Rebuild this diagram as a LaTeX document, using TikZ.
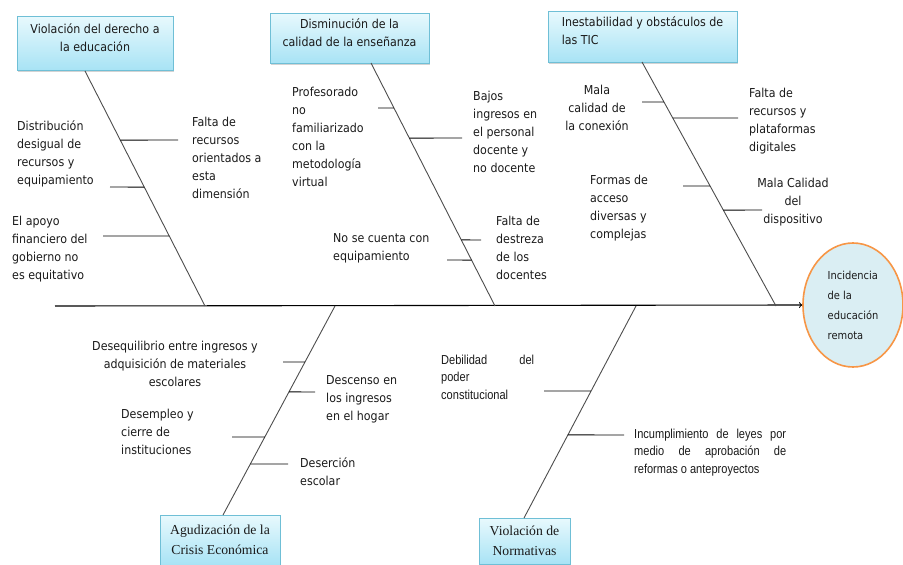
\documentclass[tikz,border=0pt]{standalone}
\usepackage{fontspec}
\setmainfont{DejaVu Sans}[FakeStretch=0.9]
\newfontfamily\serifbox{Liberation Serif}
\newfontfamily\arialn{Liberation Sans}[FakeStretch=0.85]
\usetikzlibrary{shadows,calc,shapes.geometric}
\definecolor{boxedge}{HTML}{6FBFD6}
\definecolor{boxtop}{HTML}{E8F9FD}
\definecolor{boxbot}{HTML}{A8E3F5}
\definecolor{ellfill}{HTML}{DAEEF3}
\definecolor{elledge}{HTML}{F79646}
\definecolor{bonecol}{HTML}{4D4D4D}
\definecolor{txt}{HTML}{1A1A1A}
\tikzset{
  cause/.style={rectangle, draw=boxedge, line width=0.8pt, top color=boxtop, bottom color=boxbot,
    drop shadow={opacity=0.35, shadow xshift=1pt, shadow yshift=-1.5pt},
    inner sep=0, text=txt, font=\fontsize{12.3}{18}\selectfont},
  topcause/.style={cause, text depth=11pt},
  lowcause/.style={cause, font=\serifbox\fontsize{13.7}{20.5}\selectfont},
  lbl/.style={inner sep=0, anchor=north west, align=left, text=txt, yshift=-3.5pt,
    font=\fontsize{12.3}{18}\selectfont, execute at begin node=\strut},
  clbl/.style={lbl, anchor=north, align=center},
  albl/.style={inner sep=0, anchor=north west, align=left, text=txt, yshift=-2.5pt,
    font=\arialn\fontsize{13}{17.5}\selectfont, execute at begin node=\strut},
  bone/.style={draw=bonecol, line width=0.9pt},
  twig/.style={draw=black, line width=0.9pt},
  spine/.style={draw=black, line width=1.1pt, -to}
}
\begin{document}
\begin{tikzpicture}[x=1pt,y=-1pt]
\useasboundingbox (0,0) rectangle (903,565);

% effect
\node[ellipse, draw=elledge, line width=1.6pt, fill=ellfill, minimum width=100pt, minimum height=124pt,
  inner sep=0, align=left, text=txt, font=\fontsize{11}{20}\selectfont] (eff) at (853,305)
  {Incidencia\\de la\\educación\\remota};

% cause boxes
\node[topcause, minimum width=156pt, minimum height=54pt, align=center] (c1) at (95,43)
  {Violación del derecho a\\la educación};
\node[topcause, minimum width=159pt, minimum height=50pt, align=center] (c2) at (349.5,38)
  {Disminución de la\\calidad de la enseñanza};
\node[topcause, minimum width=189pt, minimum height=51pt, align=left] (c3) at (642.5,36.5)
  {Inestabilidad y obstáculos de\\las TIC};
\node[lowcause, minimum width=120pt, minimum height=50pt, align=center] (c4) at (220,540)
  {Agudización de la\\Crisis Económica};
\node[lowcause, minimum width=91pt, minimum height=46pt, align=center] (c5) at (524.5,541)
  {Violación de\\Normativas};

% spine
\coordinate (tail) at (55,306);
\draw[spine] (tail) -- (eff.west);

% bone ends
\coordinate (t1) at (85,71);   \coordinate (j1) at (205,306);
\coordinate (t2) at (371,63);  \coordinate (j2) at (495,306);
\coordinate (t3) at (642,62);  \coordinate (j3) at (776,306);
\coordinate (j4) at (335,306); \coordinate (t4) at (223,515);
\coordinate (j5) at (636,306); \coordinate (t5) at (524,518);

\draw[bone] (t1) -- (j1)
  coordinate[pos=0.294] (b1a) coordinate[pos=0.494] (b1b) coordinate[pos=0.702] (b1c);
\draw[bone] (t2) -- (j2)
  coordinate[pos=0.185] (b2a) coordinate[pos=0.309] (b2b) coordinate[pos=0.728] (b2c) coordinate[pos=0.811] (b2d);
\draw[bone] (t3) -- (j3)
  coordinate[pos=0.164] (b3a) coordinate[pos=0.2295] (b3b) coordinate[pos=0.508] (b3c) coordinate[pos=0.607] (b3d);
\draw[bone] (j4) -- (t4)
  coordinate[pos=0.268] (b4a) coordinate[pos=0.411] (b4b) coordinate[pos=0.627] (b4c) coordinate[pos=0.756] (b4d);
\draw[bone] (j5) -- (t5)
  coordinate[pos=0.401] (b5a) coordinate[pos=0.608] (b5b);

% twig ends
\coordinate (e1a) at (178,140); \coordinate (e1b) at (110,187); \coordinate (e1c) at (103,236);
\coordinate (e2a) at (378,108); \coordinate (e2b) at (462,138); \coordinate (e2c) at (481,240); \coordinate (e2d) at (447,260);
\coordinate (e3a) at (642,102); \coordinate (e3b) at (738,118); \coordinate (e3c) at (683,186); \coordinate (e3d) at (762,210);
\coordinate (e4a) at (283,362); \coordinate (e4b) at (315,392); \coordinate (e4c) at (232,437); \coordinate (e4d) at (288,464);
\coordinate (e5a) at (544,391); \coordinate (e5b) at (624,435);

\foreach \a/\b in {b1a/e1a,b1b/e1b,b1c/e1c,b2a/e2a,b2b/e2b,b2c/e2c,b2d/e2d,
                   b3a/e3a,b3b/e3b,b3c/e3c,b3d/e3d,b4a/e4a,b4b/e4b,b4c/e4c,b4d/e4d,b5a/e5a,b5b/e5b}
  \draw[twig] (\a) -- (\b);

% labels
\node[lbl] (l1a) at (192,113) {Falta de\\recursos\\orientados a\\esta\\dimensión};
\node[lbl] (l1b) at (17,117) {Distribución\\desigual de\\recursos y\\equipamiento};
\node[lbl] (l1c) at (12,212) {El apoyo\\financiero del\\gobierno no\\es equitativo};
\node[lbl] (l2a) at (292,83) {Profesorado\\no\\familiarizado\\con la\\metodología\\virtual};
\node[lbl] (l2b) at (473,87) {Bajos\\ingresos en\\el personal\\docente y\\no docente};
\node[lbl] (l2c) at (496,212) {Falta de\\destreza\\de los\\docentes};
\node[lbl] (l2d) at (333,230) {No se cuenta con\\equipamiento};
\node[clbl] (l3a) at (597,81) {Mala\\calidad de\\la conexión};
\node[lbl] (l3b) at (749,84) {Falta de\\recursos y\\plataformas\\digitales};
\node[lbl] (l3c) at (590,171) {Formas de\\acceso\\diversas y\\complejas};
\node[clbl] (l3d) at (793,174) {Mala Calidad\\del\\dispositivo};
\node[clbl] (l4a) at (175,337) {Desequilibrio entre ingresos y\\adquisición de materiales\\escolares};
\node[lbl] (l4b) at (326,372) {Descenso en\\los ingresos\\en el hogar};
\node[lbl] (l4c) at (121,405) {Desempleo y\\cierre de\\instituciones};
\node[lbl] (l4d) at (300,454) {Deserción\\escolar};
\node[albl] (l5a) at (441,352) {\makebox[93pt][s]{Debilidad del}\\poder\\constitucional};
\node[albl] (l5b) at (634,426) {\makebox[152pt][s]{Incumplimiento de leyes por}\\\makebox[152pt][s]{medio de aprobación de}\\reformas o anteproyectos};
\end{tikzpicture}
\end{document}
